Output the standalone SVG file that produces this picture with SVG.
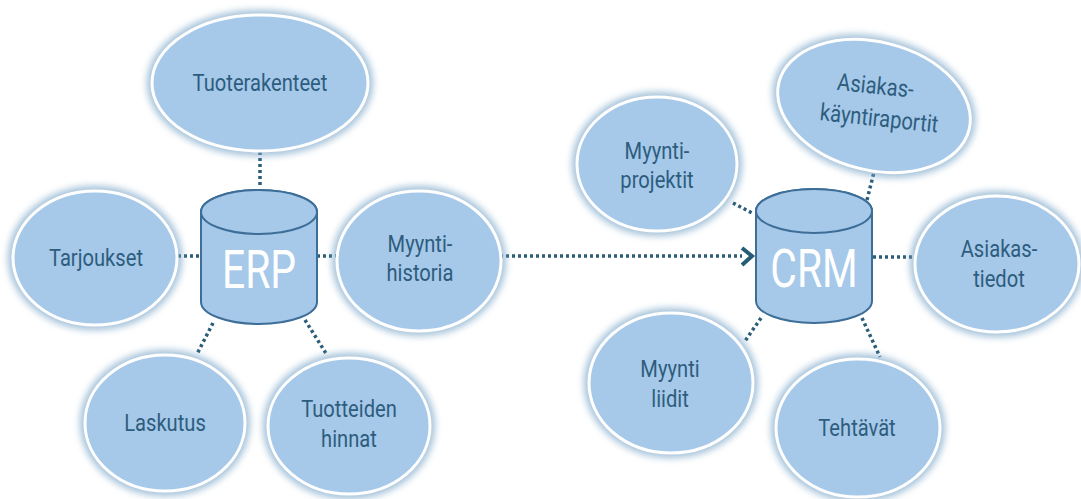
<svg xmlns="http://www.w3.org/2000/svg" width="1081" height="499" viewBox="0 0 1081 499">
<defs>
<filter id="glow" x="-30%" y="-30%" width="160%" height="160%">
<feGaussianBlur stdDeviation="3.5"/>
</filter>
<style>
.halo{fill:none;stroke:#7aa6c8;stroke-width:10;opacity:.7;filter:url(#glow)}
.bub{fill:#a6c8e9;stroke:#ffffff;stroke-width:3}
.lbl{font-family:Roboto,"Liberation Sans",sans-serif;font-size:24px;fill:#2d5d7d;text-anchor:middle}
.db{fill:#a6c8e9;stroke:#3d6e98;stroke-width:2}
.dbt{font-family:Roboto,"Liberation Sans",sans-serif;font-size:53px;fill:#ffffff;text-anchor:middle}
.con{fill:none;stroke:#2b5d78;stroke-width:3.5;stroke-dasharray:3 3}
</style>
</defs>
<rect width="1081" height="499" fill="#ffffff"/>
<g id="connectors">
<line class="con" x1="260" y1="152" x2="260" y2="188"/>
<line class="con" x1="178" y1="256" x2="201" y2="256"/>
<line class="con" x1="317" y1="256" x2="338" y2="256"/>
<line class="con" x1="213" y1="323" x2="197" y2="354"/>
<line class="con" x1="305" y1="320" x2="327" y2="355"/>
<line class="con" x1="500" y1="256" x2="742" y2="256"/>
<polyline points="742,248 752,256 742,265" fill="none" stroke="#265d74" stroke-width="4"/>
<line class="con" x1="733" y1="203" x2="754" y2="214"/>
<line class="con" x1="875" y1="168" x2="866" y2="204"/>
<line class="con" x1="873" y1="257" x2="913" y2="257"/>
<line class="con" x1="761" y1="318" x2="745" y2="341"/>
<line class="con" x1="862" y1="318" x2="880" y2="357"/>
</g>
<g id="tuoterakenteet">
<ellipse class="halo" cx="260" cy="83" rx="108" ry="68"/>
<ellipse class="bub" cx="260" cy="83" rx="108" ry="68"/>
<text class="lbl" transform="translate(260,91) scale(0.84,1)">Tuoterakenteet</text>
</g>
<g id="tarjoukset">
<ellipse class="halo" cx="95" cy="258" rx="82" ry="67"/>
<ellipse class="bub" cx="95" cy="258" rx="82" ry="67"/>
<text class="lbl" transform="translate(96,266) scale(0.84,1)">Tarjoukset</text>
</g>
<g id="myyntihistoria">
<ellipse class="halo" cx="419" cy="261" rx="82" ry="70"/>
<ellipse class="bub" cx="419" cy="261" rx="82" ry="70"/>
<text class="lbl" transform="translate(420,252) scale(0.84,1)">Myynti-</text>
<text class="lbl" transform="translate(420,281) scale(0.84,1)">historia</text>
</g>
<g id="laskutus">
<ellipse class="halo" cx="165" cy="423" rx="80" ry="68"/>
<ellipse class="bub" cx="165" cy="423" rx="80" ry="68"/>
<text class="lbl" transform="translate(165,431) scale(0.84,1)">Laskutus</text>
</g>
<g id="tuotteidenhinnat">
<ellipse class="halo" cx="349" cy="426" rx="81" ry="68"/>
<ellipse class="bub" cx="349" cy="426" rx="81" ry="68"/>
<text class="lbl" transform="translate(349,417) scale(0.84,1)">Tuotteiden</text>
<text class="lbl" transform="translate(349,447) scale(0.84,1)">hinnat</text>
</g>
<g id="erp">
<path class="db" d="M201,212 V302 A58,22 0 0 0 317,302 V212 A58,22 0 0 0 201,212 Z"/>
<ellipse class="db" cx="259" cy="212" rx="58" ry="22"/>
<text class="dbt" transform="translate(259,288) scale(0.77,1)">ERP</text>
</g>
<g id="myyntiprojektit">
<ellipse class="halo" cx="657" cy="164" rx="80" ry="67"/>
<ellipse class="bub" cx="657" cy="164" rx="80" ry="67"/>
<text class="lbl" transform="translate(657,159) scale(0.84,1)">Myynti-</text>
<text class="lbl" transform="translate(657,188) scale(0.84,1)">projektit</text>
</g>
<g id="asiakaskayntiraportit">
<ellipse class="halo" cx="874" cy="106" rx="98" ry="64" transform="rotate(14 874 106)"/>
<ellipse class="bub" cx="874" cy="106" rx="98" ry="64" transform="rotate(14 874 106)"/>
<g transform="translate(876,110) rotate(6)">
<text class="lbl" transform="translate(-3,-16) scale(0.84,1)">Asiakas-</text>
<text class="lbl" transform="translate(4,16) scale(0.84,1)">käyntiraportit</text>
</g>
</g>
<g id="asiakastiedot">
<ellipse class="halo" cx="997" cy="264" rx="82" ry="68"/>
<ellipse class="bub" cx="997" cy="264" rx="82" ry="68"/>
<text class="lbl" transform="translate(999,257) scale(0.84,1)">Asiakas-</text>
<text class="lbl" transform="translate(999,287) scale(0.84,1)">tiedot</text>
</g>
<g id="myyntiliidit">
<ellipse class="halo" cx="671" cy="383" rx="82" ry="70"/>
<ellipse class="bub" cx="671" cy="383" rx="82" ry="70"/>
<text class="lbl" transform="translate(670,377) scale(0.84,1)">Myynti</text>
<text class="lbl" transform="translate(670,407) scale(0.84,1)">liidit</text>
</g>
<g id="tehtavat">
<ellipse class="halo" cx="858" cy="428" rx="82" ry="69"/>
<ellipse class="bub" cx="858" cy="428" rx="82" ry="69"/>
<text class="lbl" transform="translate(857,436) scale(0.84,1)">Tehtävät</text>
</g>
<g id="crm">
<path class="db" d="M756,211 V301 A58,22 0 0 0 872,301 V211 A58,22 0 0 0 756,211 Z"/>
<ellipse class="db" cx="814" cy="211" rx="58" ry="22"/>
<text class="dbt" transform="translate(814,287) scale(0.77,1)">CRM</text>
</g>
</svg>
